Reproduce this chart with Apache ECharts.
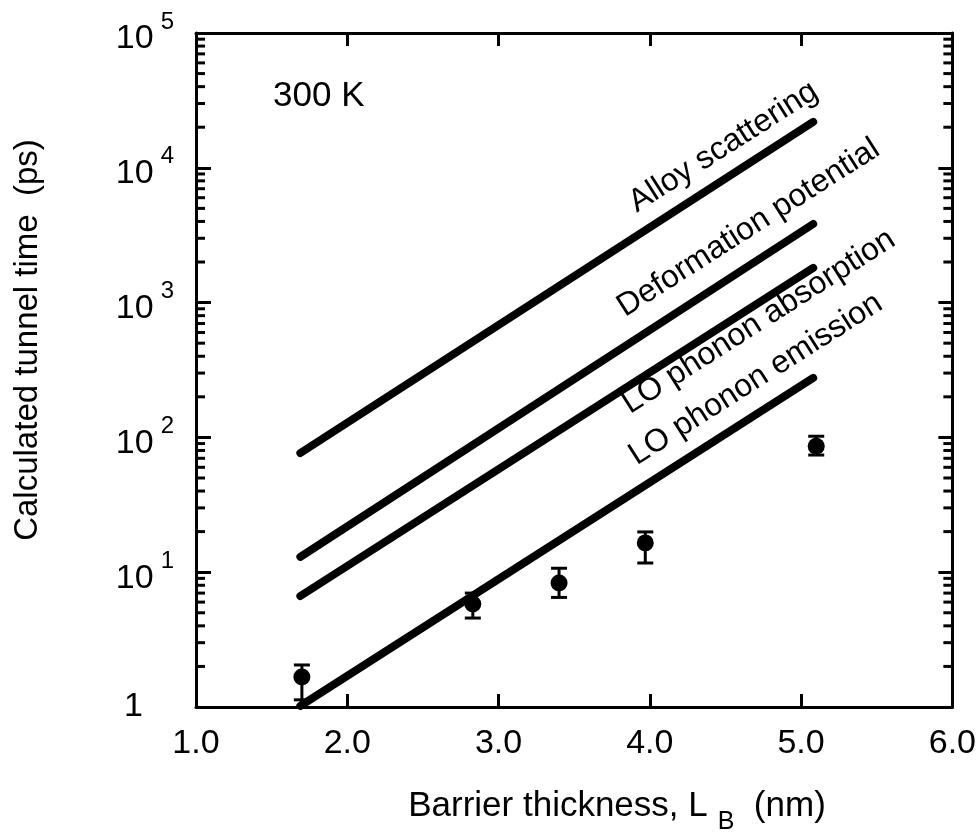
<!DOCTYPE html>
<html>
<head>
<meta charset="utf-8">
<script src="https://cdn.jsdelivr.net/npm/echarts@6/dist/echarts.min.js"></script>
<style>
  html, body { margin: 0; padding: 0; background: #fff; }
  #chart { width: 979px; height: 836px; }
</style>
</head>
<body>
<div id="chart"></div>
<script>
// barrier thickness (nm) at the two ends of each calculated line
const lineX = [1.69, 5.08];
const alloyScattering = [76.6, 21900];
const deformationPotential = [13.0, 3830];
const loPhononAbsorption = [6.66, 1806];
const loPhononEmission = [1.02, 276];

// measured points with error bars
const measX = [1.70, 2.83, 3.40, 3.97, 5.10];
const measY = [1.67, 5.8, 8.3, 16.5, 86];
const measLow = [1.13, 4.57, 6.5, 11.7, 74];
const measHigh = [2.05, 7.0, 10.7, 19.9, 102];

// line labels
const labelX = [4.487, 4.653, 4.720, 4.700];
const labelY = [14260, 3575, 720, 270];
const labelText = ['Alloy scattering', 'Deformation potential', 'LO phonon absorption', 'LO phonon emission'];

const FONT = 'Liberation Sans';
const BLACK = '#000000';

function pairs(xs, ys) {
  return xs.map(function (x, i) { return [x, ys[i]]; });
}

// log minor ticks 2..9 in each decade
var minorTicks = [];
for (var e = 0; e < 5; e++) {
  for (var m = 2; m <= 9; m++) {
    minorTicks.push([1, m * Math.pow(10, e)]);
  }
}

var chart = echarts.init(document.getElementById('chart'), null, { renderer: 'canvas' });

function lineSeries(name, ys) {
  return {
    name: name,
    type: 'line',
    data: pairs(lineX, ys),
    showSymbol: false,
    silent: true,
    lineStyle: { color: BLACK, width: 8, cap: 'round', opacity: 1 },
    z: 3
  };
}

var frameLine = { onZero: false, lineStyle: { color: BLACK, width: 3 } };

var option = {
  backgroundColor: '#ffffff',
  animation: false,
  grid: { left: 196, right: 26, top: 33, bottom: 129 },
  xAxis: [{
    type: 'value',
    min: 1,
    max: 6,
    interval: 1,
    axisLine: frameLine,
    axisTick: { inside: true, length: 13, lineStyle: { color: BLACK, width: 3 } },
    axisLabel: {
      margin: 20,
      fontFamily: FONT,
      fontSize: 34,
      color: BLACK,
      formatter: function (v) { return v.toFixed(1); }
    },
    splitLine: { show: false }
  }, {
    type: 'value',
    position: 'top',
    min: 1,
    max: 6,
    interval: 1,
    axisLine: frameLine,
    axisTick: { inside: true, length: 13, lineStyle: { color: BLACK, width: 3 } },
    axisLabel: { show: false },
    splitLine: { show: false }
  }],
  yAxis: [{
    type: 'log',
    logBase: 10,
    min: 1,
    max: 100000,
    axisLine: frameLine,
    axisTick: { inside: true, length: 15, lineStyle: { color: BLACK, width: 3 } },
    axisLabel: {
      margin: 22,
      color: BLACK,
      formatter: function (v) {
        if (v <= 1) return '{one|1}';
        return '{b|10}{s|' + Math.round(Math.log10(v)) + '}';
      },
      rich: {
        b: { fontFamily: FONT, fontSize: 34, lineHeight: 46, verticalAlign: 'bottom', color: BLACK },
        s: { fontFamily: FONT, fontSize: 24, lineHeight: 22, verticalAlign: 'top', padding: [0, 0, 0, 7], color: BLACK },
        one: { fontFamily: FONT, fontSize: 34, lineHeight: 46, padding: [0, 31, 0, 0], color: BLACK }
      }
    },
    splitLine: { show: false }
  }, {
    type: 'log',
    logBase: 10,
    min: 1,
    max: 100000,
    position: 'right',
    axisLine: frameLine,
    axisTick: { inside: true, length: 14, lineStyle: { color: BLACK, width: 3 } },
    axisLabel: { show: false },
    splitLine: { show: false }
  }],
  graphic: [{
    type: 'text',
    x: 617,
    y: 812,
    style: {
      text: '{a|Barrier thickness, L}{s|B}{a|  (nm)}',
      align: 'center',
      verticalAlign: 'middle',
      fill: BLACK,
      rich: {
        a: { fontFamily: FONT, fontSize: 35, lineHeight: 46, verticalAlign: 'top', fill: BLACK },
        s: { fontFamily: FONT, fontSize: 25, lineHeight: 20, verticalAlign: 'bottom', padding: [0, 0, 0, 10], fill: BLACK }
      }
    }
  }, {
    type: 'text',
    x: 28,
    y: 340,
    rotation: Math.PI / 2,
    style: {
      text: 'Calculated tunnel time  (ps)',
      align: 'center',
      verticalAlign: 'middle',
      fontFamily: FONT,
      fontSize: 33,
      fill: BLACK
    }
  }],
  series: [
    lineSeries('Alloy scattering', alloyScattering),
    lineSeries('Deformation potential', deformationPotential),
    lineSeries('LO phonon absorption', loPhononAbsorption),
    lineSeries('LO phonon emission', loPhononEmission),
    {
      // error bars
      type: 'custom',
      silent: true,
      z: 4,
      data: measX.map(function (x, i) { return [x, measLow[i], measHigh[i]]; }),
      renderItem: function (params, api) {
        var lo = api.coord([api.value(0), api.value(1)]);
        var hi = api.coord([api.value(0), api.value(2)]);
        var half = 8;
        var st = { stroke: BLACK, lineWidth: 3 };
        return {
          type: 'group',
          children: [
            { type: 'line', shape: { x1: lo[0], y1: lo[1], x2: hi[0], y2: hi[1] }, style: st },
            { type: 'line', shape: { x1: lo[0] - half, y1: lo[1], x2: lo[0] + half, y2: lo[1] }, style: st },
            { type: 'line', shape: { x1: hi[0] - half, y1: hi[1], x2: hi[0] + half, y2: hi[1] }, style: st }
          ]
        };
      }
    },
    {
      type: 'scatter',
      data: pairs(measX, measY),
      symbol: 'circle',
      symbolSize: 17,
      itemStyle: { color: BLACK, opacity: 1 },
      silent: true,
      z: 5
    },
    {
      // minor ticks of the log axis, left and right frame
      type: 'custom',
      silent: true,
      data: minorTicks,
      renderItem: function (params, api) {
        var p = api.coord([api.value(0), api.value(1)]);
        var cs = params.coordSys;
        var st = { stroke: BLACK, lineWidth: 3 };
        return {
          type: 'group',
          children: [
            { type: 'line', shape: { x1: cs.x, y1: p[1], x2: cs.x + 9, y2: p[1] }, style: st },
            { type: 'line', shape: { x1: cs.x + cs.width - 9, y1: p[1], x2: cs.x + cs.width, y2: p[1] }, style: st }
          ]
        };
      }
    },
    {
      // text annotations
      type: 'scatter',
      symbolSize: 0,
      silent: true,
      z: 6,
      itemStyle: { opacity: 1 },
      label: {
        show: true,
        position: 'inside',
        rotate: 32.5,
        fontFamily: FONT,
        fontSize: 32,
        color: BLACK,
        formatter: function (p) { return p.name; }
      },
      data: labelX.map(function (x, i) {
        return { value: [x, labelY[i]], name: labelText[i] };
      }).concat([{
        value: [1.812, 34100],
        name: '300 K',
        label: { rotate: 0, fontSize: 35 }
      }])
    }
  ]
};

chart.setOption(option);
</script>
</body>
</html>
